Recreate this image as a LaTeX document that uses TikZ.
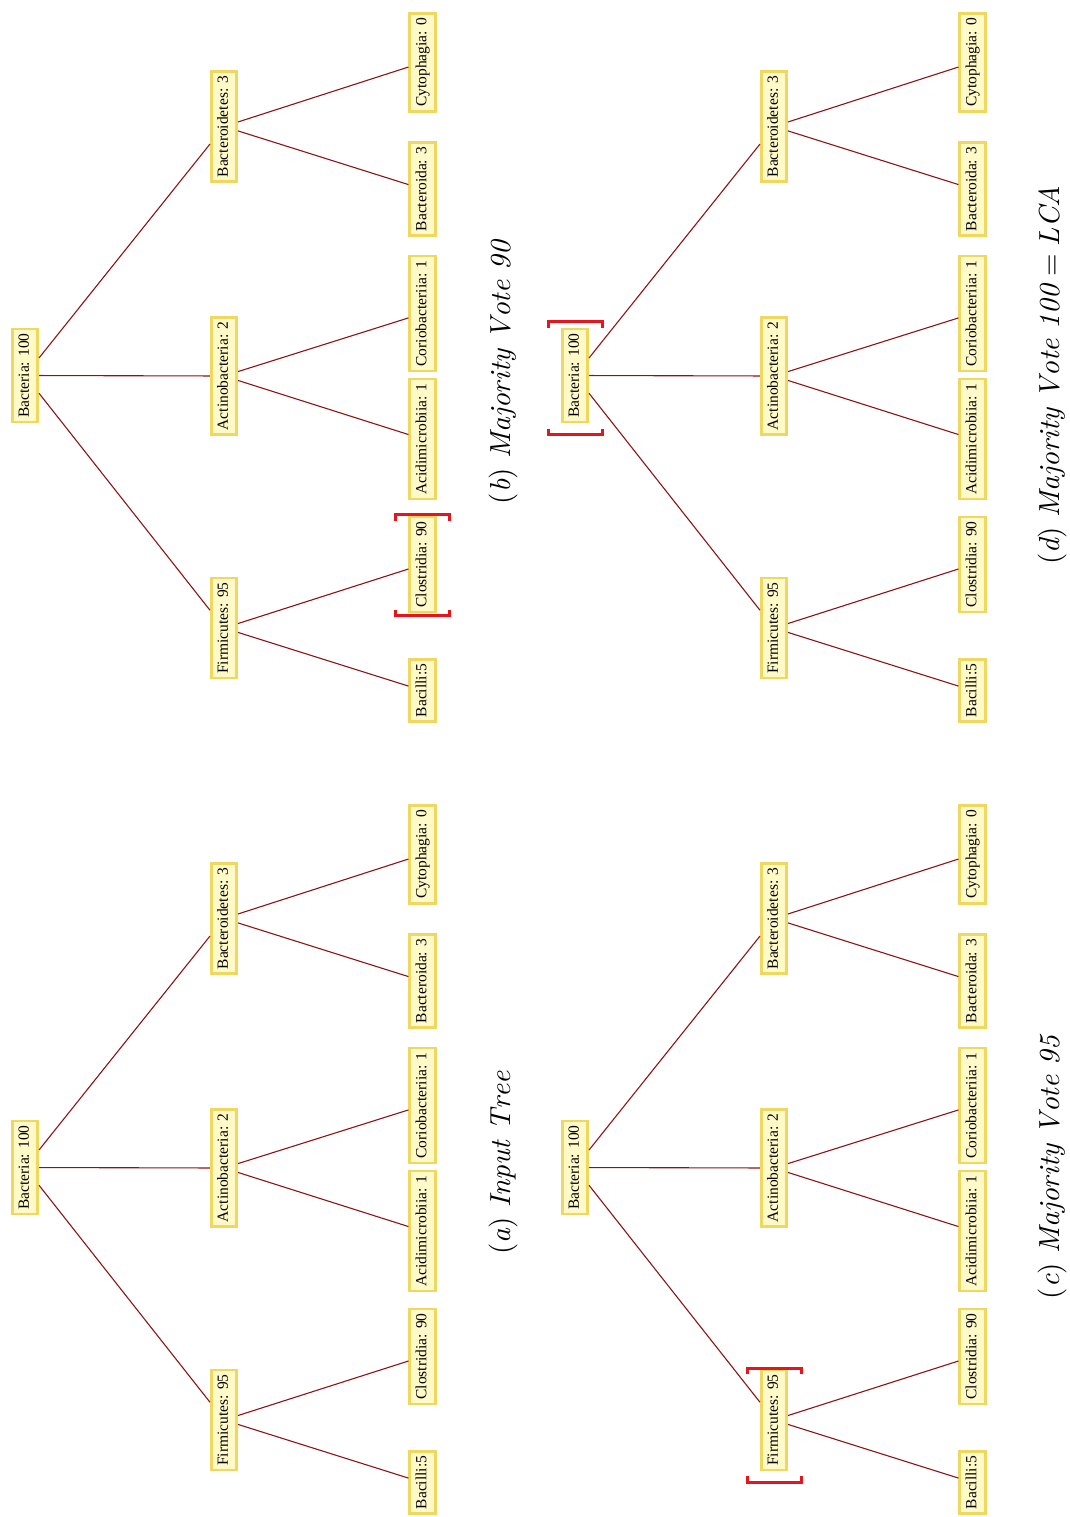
\documentclass[tikz,border=0pt]{standalone}
\usepackage{fontspec}
\usepackage{graphicx}
\usetikzlibrary{calc}
\newfontfamily\libserif{Liberation Serif}
\definecolor{edgec}{RGB}{140,20,20}
\definecolor{boxc}{RGB}{240,216,96}
\definecolor{fillc}{RGB}{255,250,200}
\definecolor{brkc}{RGB}{232,20,28}
\tikzset{
  tnode/.style={draw=boxc, fill=fillc, line width=2.6pt, rotate=90,
    inner xsep=4.5pt, inner ysep=5.5pt, text height=11pt, text depth=3.5pt,
    font={\libserif\fontsize{15.5}{18}\selectfont}},
  tedge/.style={draw=edgec, line width=1.1pt},
  brk/.style={draw=brkc, line width=3pt, line join=miter},
  capnode/.style={rotate=90, inner sep=0pt}
}
\newcommand\drawtree[3]{%
\begin{scope}[shift={(#2,#3)}]
  \node[tnode] (#1r) at (25,1167.5) {Bacteria: 100};
  \node[tnode] (#1f) at (224,1420) {Firmicutes: 95};
  \node[tnode] (#1a) at (224,1168) {Actinobacteria: 2};
  \node[tnode] (#1b) at (224,918.5) {Bacteroidetes: 3};
  \node[tnode] (#1bac) at (422.5,1482.5) {Bacilli:5};
  \node[tnode] (#1clo) at (422.5,1356.5) {Clostridia: 90};
  \node[tnode] (#1aci) at (422.5,1231) {Acidimicrobiia: 1};
  \node[tnode] (#1cor) at (422.5,1105.5) {Coriobacteriia: 1};
  \node[tnode] (#1bda) at (422.5,981) {Bacteroida: 3};
  \node[tnode] (#1cyt) at (422.5,854.5) {Cytophagia: 0};
  \draw[tedge] (#1r) -- (#1f);
  \draw[tedge] (#1r) -- (#1a);
  \draw[tedge] (#1r) -- (#1b);
  \draw[tedge] (#1f) -- (#1bac);
  \draw[tedge] (#1f) -- (#1clo);
  \draw[tedge] (#1a) -- (#1aci);
  \draw[tedge] (#1a) -- (#1cor);
  \draw[tedge] (#1b) -- (#1bda);
  \draw[tedge] (#1b) -- (#1cyt);
\end{scope}}
\newcommand\drawbrk[3]{%
  \draw[brk] ($(#1)+(-27,#2+6)$) -- ++(0,-6) -- ++(54,0) -- ++(0,6);
  \draw[brk] ($(#1)+(-27,#3-6)$) -- ++(0,6) -- ++(54,0) -- ++(0,-6);}
\newcommand\captxt[1]{\scalebox{2.9}{$\mathit{#1}$}}
\begin{document}
\begin{tikzpicture}[x=1pt,y=-1pt]
\useasboundingbox (0,0) rectangle (1070,1517);
\drawtree{A}{0}{0}
\drawtree{B}{0}{-792}
\drawtree{C}{550}{0}
\drawtree{D}{550}{-792}
\drawbrk{Bclo}{-50}{51}
\drawbrk{Cf}{-52}{62}
\drawbrk{Dr}{-54}{59}
\node[capnode] (capa) at (503,1163) {\captxt{(a)\ Input\ Tree}};
\node[capnode] (capb) at (503,372.5) {\captxt{(b)\ Majority\ Vote\ 90}};
\node[capnode] (capc) at (1052,1167.5) {\captxt{(c)\ Majority\ Vote\ 95}};
\node[capnode] (capd) at (1052,375) {\captxt{(d)\ Majority\ Vote\ 100 = LCA}};
\end{tikzpicture}
\end{document}
